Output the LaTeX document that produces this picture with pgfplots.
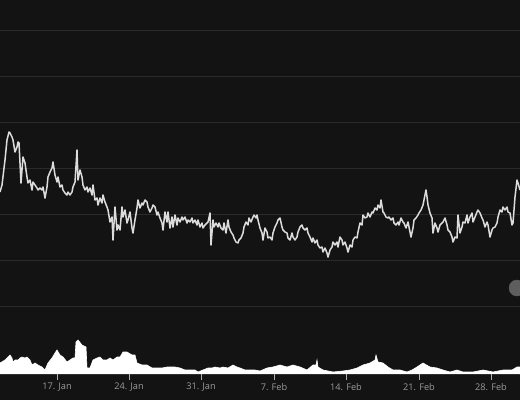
\documentclass[border=0pt]{standalone}
\usepackage{pgfplots}
\pgfplotsset{compat=1.18}
\usepackage{fontspec}
\setmainfont{Open Sans}
\definecolor{bg}{HTML}{131313}
\definecolor{gridc}{HTML}{2A2A2A}
\definecolor{linec}{HTML}{DCDCDC}
\definecolor{labc}{HTML}{9A9A9A}
\definecolor{tickc}{HTML}{B0B0B0}
\definecolor{handle}{HTML}{5E5E5E}
\begin{document}
\begin{tikzpicture}
\begin{axis}[
  x=1bp, y=1bp,
  xmin=0, xmax=520, ymin=0, ymax=400,
  axis background/.style={fill=bg},
  axis line style={draw=none},
  tick style={draw=none},
  ytick={94,140,186,232,278,324,370},
  yticklabels={},
  ymajorgrids,
  grid style={gridc, line width=1bp},
  xtick={57,129,201,274,346,419,491},
  xticklabels={17. Jan,24. Jan,31. Jan,7. Feb,14. Feb,21. Feb,28. Feb},
  x tick label style={anchor=center, yshift=13bp, text=labc, font=\fontsize{9.2bp}{11bp}\selectfont},
  clip=true,
]
% volume
\addplot[draw=white, fill=white, line width=0.6bp] coordinates {
(0,26) (0,37) (5,40) (8,43) (10,45) (12,42) (13,38) (15,40) (18,40) (20,42) (22,43) (25,42) (27,43)
(30,40) (32,35) (35,37) (38,35) (42,33) (45,30) (48,37) (52,42) (55,47) (57,50) (60,45) (63,43)
(67,38) (70,40) (73,42) (75,42) (76,58) (78,60) (82,55) (86,53) (87,32) (90,32) (93,40) (97,42)
(100,43) (103,40) (107,40) (110,42) (113,40) (117,43) (120,43) (123,48) (127,48) (132,45) (135,45)
(137,37) (142,35) (147,35) (152,32) (157,32) (162,32) (167,33) (172,33) (175,33) (180,32) (185,30)
(190,30) (195,30) (198,28) (203,30) (208,32) (212,32) (215,33) (220,32) (223,33) (228,32) (233,35)
(237,33) (240,32) (245,30) (250,30) (255,30) (260,29) (267,32) (273,33) (280,35) (287,33) (293,35)
(300,33) (307,30) (313,35) (316,35) (317,40) (318,33) (323,30) (333,28) (343,29) (350,30) (357,32)
(363,35) (370,37) (375,40) (376,45) (378,38) (383,37) (388,33) (393,30) (400,30) (407,28) (412,30)
(417,33) (423,37) (430,33) (437,32) (443,30) (450,28) (457,30) (463,28) (473,28) (483,30) (493,28)
(503,30) (512,30) (517,33) (520,33) (520,26)
};
% price line
\addplot[linec, line width=1.5bp, line join=round] coordinates {
(0,208) (2,215) (5,240) (7,260) (9,268) (10,267) (12,263) (13,260) (15,248) (17,253) (18,258) (19,257)
(21,217) (23,243) (25,237) (27,223) (28,217) (30,220) (32,210) (33,218) (35,215) (37,212) (38,210)
(40,212) (42,210) (43,213) (45,202) (47,213) (48,223) (50,228) (52,232) (53,238) (55,225) (57,218)
(58,223) (60,213) (62,215) (63,210) (65,207) (67,205) (68,208) (70,205) (72,208) (73,213) (75,218)
(77,250) (78,220) (80,230) (82,223) (83,215) (85,210) (87,213) (88,208) (90,212) (92,205) (93,215)
(95,200) (97,202) (98,195) (100,202) (102,197) (103,205) (105,198) (107,193) (108,190) (110,178)
(112,183) (113,160) (115,193) (117,170) (118,175) (120,170) (122,193) (123,183) (125,190) (127,177)
(128,180) (130,188) (132,172) (133,167) (135,180) (137,192) (138,200) (140,192) (142,197) (143,195)
(145,200) (147,198) (148,193) (150,188) (152,192) (153,195) (155,193) (157,185) (158,188) (160,182)
(162,177) (163,170) (165,188) (167,178) (168,188) (170,172) (172,183) (173,173) (175,185) (177,175)
(178,182) (180,178) (182,183) (183,180) (185,183) (187,177) (188,180) (190,178) (192,182) (193,177)
(195,180) (197,175) (198,180) (200,173) (202,177) (203,172) (205,175) (207,177) (208,178) (210,187)
(211,155) (213,180) (214,173) (216,177) (218,173) (219,177) (221,172) (223,170) (224,177) (226,167)
(228,180) (229,173) (231,168) (233,165) (234,162) (236,158) (238,157) (239,160) (241,162) (243,167)
(244,173) (246,178) (248,175) (249,182) (251,178) (253,183) (254,185) (256,182) (257,185) (258,180)
(260,172) (262,167) (263,160) (265,172) (267,168) (268,162) (270,163) (272,160) (273,167) (275,173)
(277,177) (278,180) (280,182) (282,173) (283,170) (285,168) (287,167) (288,162) (290,160) (292,167)
(293,163) (295,160) (297,163) (298,168) (300,173) (302,175) (303,172) (305,170) (307,172) (308,167)
(310,163) (312,158) (313,162) (315,157) (317,160) (318,155) (320,152) (322,153) (323,148) (325,152)
(327,147) (328,143) (330,150) (332,153) (333,158) (335,155) (337,158) (338,153) (340,163) (342,160)
(343,155) (345,158) (347,152) (348,148) (350,155) (352,153) (353,160) (355,163) (357,162) (358,168)
(360,177) (362,175) (363,185) (365,182) (367,183) (368,187) (370,183) (372,188) (373,187) (375,192)
(377,190) (378,195) (380,192) (381,200) (383,188) (384,187) (386,183) (388,182) (389,183) (391,180)
(393,182) (394,177) (396,175) (398,178) (399,175) (401,182) (403,178) (404,177) (406,172) (408,178)
(409,173) (411,163) (413,172) (414,180) (416,182) (418,185) (419,187) (421,190) (423,195) (424,200)
(426,210) (427,203) (428,195) (430,187) (432,182) (433,167) (435,177) (437,172) (438,168) (440,175)
(442,177) (443,178) (445,182) (447,175) (448,170) (450,168) (452,163) (453,158) (455,163) (457,162)
(458,185) (460,167) (462,173) (463,178) (465,177) (467,185) (468,177) (470,183) (472,187) (473,178)
(475,183) (477,188) (478,190) (480,187) (482,182) (483,180) (485,173) (487,178) (488,175) (490,163)
(492,170) (493,172) (495,173) (497,177) (498,183) (500,190) (502,188) (503,193) (505,190) (507,193)
(508,188) (510,187) (512,175) (513,177) (515,203) (517,220) (518,217) (520,210)
};
% navigator handle
\addplot[only marks, mark=*, mark size=8bp, mark options={fill=handle, draw=handle}] coordinates {(517,112)};
\pgfplotsinvokeforeach{57,129,201,274,346,419,491}{
  \draw[tickc, line width=0.8bp] (axis cs:#1,20) -- (axis cs:#1,26);
}
\end{axis}
\pgfresetboundingbox
\path (current axis.south west) rectangle (current axis.north east);
\end{tikzpicture}
\end{document}
